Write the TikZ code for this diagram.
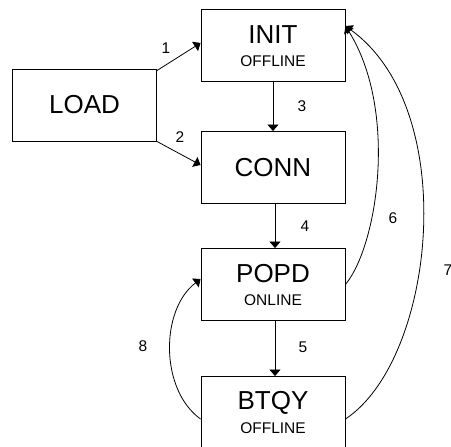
\documentclass[tikz,border=0pt]{standalone}
\usepackage{fontspec}
\setmainfont{Liberation Sans}
\usetikzlibrary{arrows.meta}
\tikzset{
  state/.style={draw, line width=0.9pt, minimum width=144pt, minimum height=72pt,
    inner sep=0pt, align=center, font=\fontsize{26}{28}\selectfont},
  title/.style={font=\fontsize{26}{28}\selectfont},
  sub/.style={font=\fontsize{15.5}{17}\selectfont},
  conn/.style={line width=0.8pt, -{Triangle[length=6.5pt,width=11pt]}},
  lbl/.style={font=\fontsize{15.5}{17}\selectfont, inner sep=0pt}
}
\begin{document}
\begin{tikzpicture}[x=1pt,y=-1pt]
  \useasboundingbox (0,0) rectangle (451,447);

  % states
  \node[state] (LOAD) at (84.5,105) {LOAD};
  \node[state] (INIT) at (273,45) {};
  \node[title] (INITt) at (273,35) {INIT};
  \node[sub] (INITs) at (273,61) {OFFLINE};
  \node[state] (CONN) at (273,167.5) {CONN};
  \node[state] (POPD) at (273,284.5) {};
  \node[title] (POPDt) at (273,274) {POPD};
  \node[sub] (POPDs) at (273,300) {ONLINE};
  \node[state] (BTQY) at (273,412.5) {};
  \node[title] (BTQYt) at (273,403) {BTQY};
  \node[sub] (BTQYs) at (273,428) {OFFLINE};

  % transitions
  \draw[conn] ([yshift=-2pt]LOAD.north east) -- ([yshift=2pt]INIT.west);
  \draw[conn] (LOAD.south east) -- ([yshift=2.5pt]CONN.west);
  \draw[conn] (INIT.south) -- (CONN.north);
  \draw[conn] ([xshift=2pt]CONN.south) -- ([xshift=2pt]POPD.north);
  \draw[conn] ([xshift=2pt]POPD.south) -- ([xshift=2pt]BTQY.north);
  \draw[conn] (POPD.east) .. controls (378,245) and (398,110) .. ([yshift=19pt]INIT.east);
  \draw[conn] ([yshift=-6.5pt]BTQY.east) .. controls (435,360) and (462,110) .. ([yshift=19pt]INIT.east);
  \draw[conn] ([yshift=-6.5pt]BTQY.west) .. controls (160,390) and (160,310) .. ([yshift=5.5pt]POPD.west);

  % transition labels
  \node[lbl] (l1) at (166,48) {1};
  \node[lbl] (l2) at (180,137) {2};
  \node[lbl] (l3) at (302,106) {3};
  \node[lbl] (l4) at (305,226) {4};
  \node[lbl] (l5) at (303,347) {5};
  \node[lbl] (l6) at (393,218) {6};
  \node[lbl] (l7) at (448,270) {7};
  \node[lbl] (l8) at (143,346) {8};
\end{tikzpicture}
\end{document}
